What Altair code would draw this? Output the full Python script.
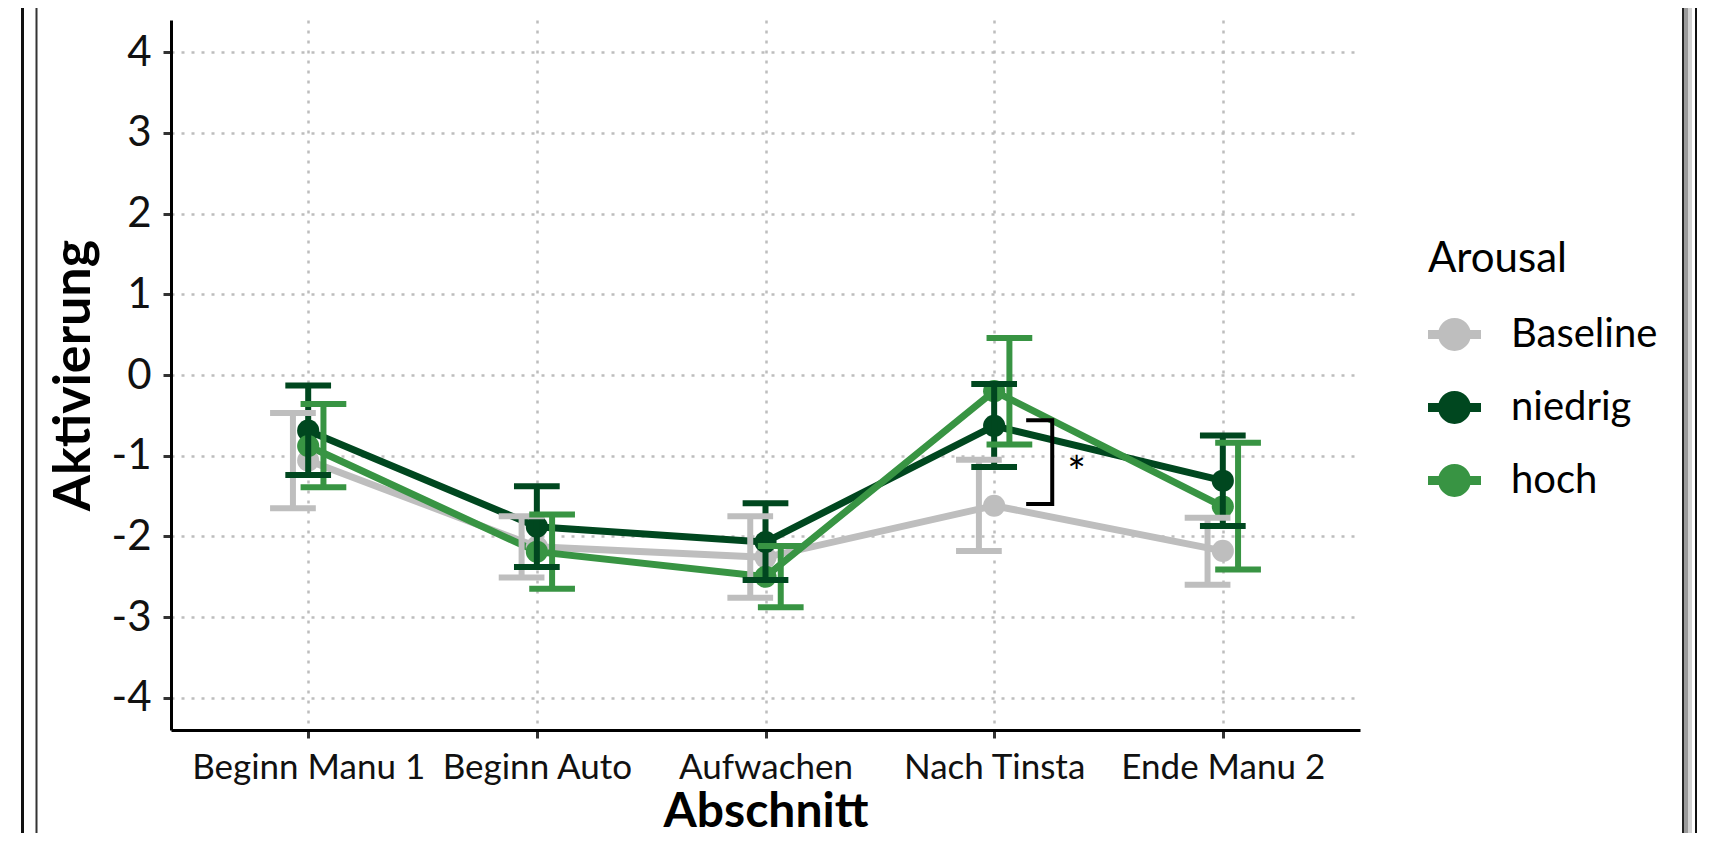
import altair as alt
import pandas as pd

# ---------------- data ----------------
categories = ["Beginn Manu 1", "Beginn Auto", "Aufwachen", "Nach Tinsta", "Ende Manu 2"]
groups = ["Baseline", "niedrig", "hoch"]
colors = ["#BEBEBE", "#00471F", "#389443"]

baseline_mean = [-1.06, -2.13, -2.26, -1.62, -2.18]
baseline_lo = [-1.65, -2.51, -2.76, -2.18, -2.60]
baseline_hi = [-0.47, -1.75, -1.75, -1.05, -1.77]

niedrig_mean = [-0.69, -1.88, -2.07, -0.63, -1.31]
niedrig_lo = [-1.24, -2.38, -2.54, -1.14, -1.87]
niedrig_hi = [-0.13, -1.38, -1.59, -0.11, -0.75]

hoch_mean = [-0.88, -2.19, -2.50, -0.20, -1.63]
hoch_lo = [-1.39, -2.65, -2.88, -0.86, -2.41]
hoch_hi = [-0.36, -1.73, -2.12, 0.46, -0.84]

y_ticks = [-4, -3, -2, -1, 0, 1, 2, 3, 4]

# significance bracket at "Nach Tinsta" (category index 4)
bracket_x = [4.14, 4.254, 4.254, 4.14]
bracket_y = [-0.56, -0.56, -1.60, -1.60]
star_x = [4.36]
star_y = [-1.40]
star_text = ["*"]

# ---------------- build table ----------------
dodge = [-0.0667, 0.0, 0.0667]
cap_half = 0.1
series = {
    "Baseline": (baseline_mean, baseline_lo, baseline_hi),
    "niedrig": (niedrig_mean, niedrig_lo, niedrig_hi),
    "hoch": (hoch_mean, hoch_lo, hoch_hi),
}
rows = []
for gi, g in enumerate(groups):
    m, lo, hi = series[g]
    for ci, c in enumerate(categories):
        rows.append(dict(Arousal=g, Abschnitt=c, pos=ci + 1, epos=ci + 1 + dodge[gi],
                         cl=ci + 1 + dodge[gi] - cap_half, cr=ci + 1 + dodge[gi] + cap_half,
                         mean=m[ci], lo=lo[ci], hi=hi[ci]))
df = pd.DataFrame(rows)

bracket_df = pd.DataFrame({"x": bracket_x, "y": bracket_y, "o": list(range(len(bracket_x)))})
star_df = pd.DataFrame({"x": star_x, "y": star_y, "t": star_text})

# ---------------- scales / axes ----------------
FONT = "Lato"
x_scale = alt.Scale(domain=[0.4, 5.6], nice=False, zero=False)
y_scale = alt.Scale(domain=[-4.4, 4.4], nice=False, zero=False)
color_scale = alt.Scale(domain=groups, range=colors)

label_expr = "[" + ",".join("'%s'" % c for c in categories) + "][datum.value - 1]"

x_axis = alt.Axis(values=list(range(1, len(categories) + 1)), labelExpr=label_expr,
                  title="Abschnitt", labelFontSize=35, labelPadding=12, labelLimit=0,
                  titleFontSize=48, titlePadding=3, labelAngle=0)
y_axis = alt.Axis(values=y_ticks, labelExpr="datum.value + ''", title="Aktivierung",
                  labelFontSize=42, labelPadding=12, titleFontSize=52, titlePadding=11)

X = alt.X("pos:Q", scale=x_scale, axis=x_axis)
Y = alt.Y("mean:Q", scale=y_scale, axis=y_axis)

legend_path = ("M-1,-0.17H1V0.17H-1Z "
               "M0.62,0A0.62,0.62 0 1,1 -0.62,0A0.62,0.62 0 1,1 0.62,0Z")
legend = alt.Legend(orient="none", legendX=1257, legendY=219,
                    symbolType=legend_path, symbolSize=2809,
                    symbolStrokeWidth=0, symbolOpacity=1,
                    titleFontSize=42, titleFontWeight="normal",
                    titleFont=FONT, titleColor="black",
                    labelFontSize=40, labelFont=FONT, labelColor="black",
                    labelOffset=30, rowPadding=26, titlePadding=27, padding=0)
C = alt.Color("Arousal:N", scale=color_scale, title="Arousal", legend=legend)

layers = []
# lines, one layer per group to control stacking
for g in groups:
    layers.append(
        alt.Chart(df).transform_filter(alt.datum.Arousal == g)
        .mark_line(strokeWidth=7)
        .encode(x=X, y=Y, color=C)
    )

# points
layers.append(alt.Chart(df).mark_circle(size=490, opacity=1).encode(x=X, y=Y, color=C))

# error bars: whiskers and caps
layers.append(
    alt.Chart(df).mark_rule(strokeWidth=6).encode(
        x=alt.X("epos:Q", scale=x_scale), y=alt.Y("lo:Q", scale=y_scale), y2="hi:Q", color=C)
)
for fld in ["lo", "hi"]:
    layers.append(
        alt.Chart(df).mark_rule(strokeWidth=6, strokeCap="butt").encode(
            x=alt.X("cl:Q", scale=x_scale), x2="cr:Q", y=alt.Y(fld + ":Q", scale=y_scale), color=C)
    )

# significance bracket and star
layers.append(
    alt.Chart(bracket_df).mark_line(color="black", strokeWidth=4, strokeJoin="miter").encode(
        x=alt.X("x:Q", scale=x_scale), y=alt.Y("y:Q", scale=y_scale), order="o:Q")
)
layers.append(
    alt.Chart(star_df).mark_text(fontSize=44, font=FONT, color="black", baseline="alphabetic").encode(
        x=alt.X("x:Q", scale=x_scale), y=alt.Y("y:Q", scale=y_scale), text="t:N")
)

# decorative screenshot frame lines (pixel positions relative to plot area)
one = pd.DataFrame({"d": [0]})
def frame_rule(color, width, **enc):
    return alt.Chart(one).mark_rule(color=color, strokeWidth=width, strokeCap="butt").encode(
        **{k: alt.value(v) for k, v in enc.items()})

layers += [
    frame_rule("#111111", 3, x=-148.5, y=-12, y2=830),
    frame_rule("#333333", 2, x=-134.5, y=-12, y2=830),
    frame_rule("#9a9a9a", 4, x=1515, y=-12, y2=830),
    frame_rule("#d2d2d2", 4, x=1519, y=-12, y2=830),
    frame_rule("#222222", 2, x=1512, y=-12, y2=830),
    frame_rule("#111111", 2, x=1525, y=-12, y2=830),
]

chart = alt.layer(*layers).properties(
    width=1189, height=710,
    autosize=alt.AutoSizeParams(type="none"),
    padding={"left": 163, "top": 12, "right": 366, "bottom": 103},
    background="white",
).configure_view(stroke=None).configure_axis(
    domainColor="black", domainWidth=3, tickColor="#333333", tickWidth=3, tickSize=8,
    labelFont=FONT, titleFont=FONT, labelColor="#111111", titleColor="black",
    titleFontWeight="bold", grid=True, gridColor="#BDBDBD", gridDash=[3, 7], gridWidth=2.5,
)

chart.save("out.html", embed_options={"renderer": "svg", "actions": False})
